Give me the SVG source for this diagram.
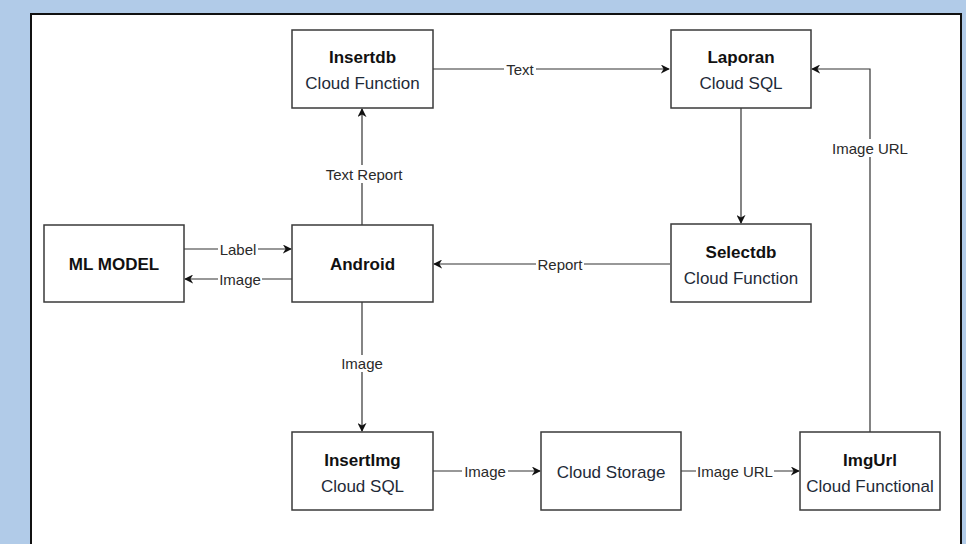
<svg xmlns="http://www.w3.org/2000/svg" width="966" height="544" viewBox="0 0 966 544">
<style>
.box{fill:#fff;stroke:#3a3a3a;stroke-width:1.5}
.t{font-family:"Liberation Sans",Arial,sans-serif;font-size:17px;font-weight:bold;fill:#111;text-anchor:middle}
.s{font-family:"Liberation Sans",Arial,sans-serif;font-size:17px;fill:#1e2a38;text-anchor:middle}
.c{fill:none;stroke:#333;stroke-width:1.2}
.l{font-family:"Liberation Sans",Arial,sans-serif;font-size:15px;fill:#2a2a2a;text-anchor:middle}
.lb{fill:#fff}
</style>
<defs>
<marker id="a" viewBox="0 0 10 10" refX="9" refY="5" markerWidth="9" markerHeight="9" markerUnits="userSpaceOnUse" orient="auto">
<path d="M0,0 L10,5 L0,10 L3,5 Z" fill="#111"/>
</marker>
</defs>
<rect x="0" y="0" width="966" height="544" fill="#b1cbe8"/>
<rect x="31" y="14" width="930" height="540" fill="#fff" stroke="#111" stroke-width="2"/>
<g id="connectors">
<path class="c" d="M433,69 H669" marker-end="url(#a)"/>
<rect class="lb" x="504" y="61" width="32" height="17"/>
<text class="l" x="520" y="75">Text</text>
<path class="c" d="M741,108 V223" marker-end="url(#a)"/>
<path class="c" d="M670,264 H434" marker-end="url(#a)"/>
<rect class="lb" x="536" y="256" width="48" height="17"/>
<text class="l" x="560" y="270">Report</text>
<path class="c" d="M362,225 V109" marker-end="url(#a)"/>
<rect class="lb" x="323" y="165" width="82" height="18"/>
<text class="l" x="364" y="180">Text Report</text>
<path class="c" d="M184,249 H291" marker-end="url(#a)"/>
<rect class="lb" x="218" y="241" width="40" height="17"/>
<text class="l" x="238" y="255">Label</text>
<path class="c" d="M292,279 H185" marker-end="url(#a)"/>
<rect class="lb" x="218" y="271" width="44" height="17"/>
<text class="l" x="240" y="285">Image</text>
<path class="c" d="M362,302 V431" marker-end="url(#a)"/>
<rect class="lb" x="339" y="355" width="46" height="17"/>
<text class="l" x="362" y="369">Image</text>
<path class="c" d="M433,471 H540" marker-end="url(#a)"/>
<rect class="lb" x="462" y="463" width="46" height="17"/>
<text class="l" x="485" y="477">Image</text>
<path class="c" d="M681,471 H799" marker-end="url(#a)"/>
<rect class="lb" x="696" y="463" width="78" height="17"/>
<text class="l" x="735" y="477">Image URL</text>
<path class="c" d="M870,432 V69 H812" marker-end="url(#a)"/>
<rect class="lb" x="830" y="139" width="80" height="18"/>
<text class="l" x="870" y="154">Image URL</text>
</g>
<g id="insertdb">
<rect class="box" x="292" y="30" width="141" height="78"/>
<text class="t" x="362.5" y="63">Insertdb</text>
<text class="s" x="362.5" y="89">Cloud Function</text>
</g>
<g id="laporan">
<rect class="box" x="671" y="30" width="140" height="78"/>
<text class="t" x="741" y="63">Laporan</text>
<text class="s" x="741" y="89">Cloud SQL</text>
</g>
<g id="mlmodel">
<rect class="box" x="44" y="225" width="140" height="77"/>
<text class="t" x="114" y="270">ML MODEL</text>
</g>
<g id="android">
<rect class="box" x="292" y="225" width="141" height="77"/>
<text class="t" x="362.5" y="270">Android</text>
</g>
<g id="selectdb">
<rect class="box" x="671" y="224" width="140" height="78"/>
<text class="t" x="741" y="258">Selectdb</text>
<text class="s" x="741" y="284">Cloud Function</text>
</g>
<g id="insertimg">
<rect class="box" x="292" y="432" width="141" height="78"/>
<text class="t" x="362.5" y="466">InsertImg</text>
<text class="s" x="362.5" y="492">Cloud SQL</text>
</g>
<g id="cloudstorage">
<rect class="box" x="541" y="432" width="140" height="78"/>
<text class="s" x="611" y="478">Cloud Storage</text>
</g>
<g id="imgurl">
<rect class="box" x="800" y="432" width="140" height="78"/>
<text class="t" x="870" y="466">ImgUrl</text>
<text class="s" x="870" y="492">Cloud Functional</text>
</g>
</svg>
